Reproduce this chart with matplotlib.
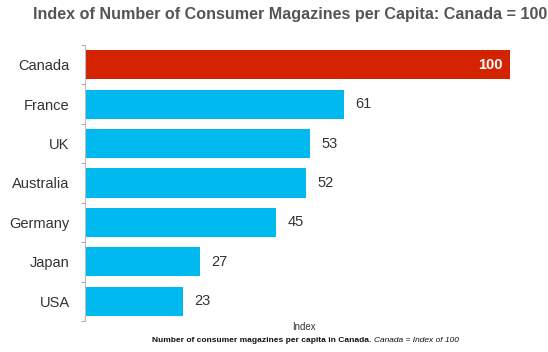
import matplotlib
matplotlib.use("Agg")
import matplotlib.pyplot as plt

countries = ["Canada", "France", "UK", "Australia", "Germany", "Japan", "USA"]
index_values = [100, 61, 53, 52, 45, 27, 23]
bar_colors = ["#D42300", "#00B9EE", "#00B9EE", "#00B9EE", "#00B9EE", "#00B9EE", "#00B9EE"]

title_text = "Index of Number of Consumer Magazines per Capita: Canada = 100"
xlabel_text = "Index"
note_plain = "Number of consumer magazines per capita in Canada. "
note_italic = "Canada = Index of 100"

plt.rcParams["font.family"] = ["Liberation Sans", "DejaVu Sans"]

fig = plt.figure(figsize=(5.48, 3.52), dpi=100)
ax = fig.add_axes([85 / 548, 1 - 321 / 352, 463 / 548, 276 / 352])

y = list(range(len(countries)))
ax.barh(y, index_values, height=0.74, color=bar_colors, edgecolor="none")
ax.set_xlim(0, 463 / 425 * 100)
ax.set_ylim(len(countries) - 0.5, -0.5)

ax.set_yticks(y)
ax.set_yticklabels(countries, fontsize=10.5, color="#333333")
ax.set_yticks([i - 0.5 for i in range(len(countries) + 1)], minor=True)
ax.tick_params(axis="y", which="major", length=0, pad=11)
ax.tick_params(axis="y", which="minor", length=3, width=0.8, color="#aaaaaa")
ax.set_xticks([])

for side in ["top", "right", "bottom"]:
    ax.spines[side].set_visible(False)
ax.spines["left"].set_color("#bbbbbb")
ax.spines["left"].set_linewidth(0.8)

for i, v in enumerate(index_values):
    if i == 0:
        ax.annotate(str(v), (v, i), xytext=(-5, 0), textcoords="offset points",
                    ha="right", va="center", fontsize=10.5, fontweight="bold", color="white")
    else:
        ax.annotate(str(v), (v, i), xytext=(8, 0), textcoords="offset points",
                    ha="left", va="center", fontsize=10.5, color="#333333")

fig.text(290 / 548, 1 - 15 / 352, title_text, ha="center", va="center",
         fontsize=11.6, fontweight="bold", color="#555555")
fig.text(304 / 548, 1 - 327 / 352, xlabel_text, ha="center", va="center",
         fontsize=7, color="#333333")

t1 = fig.text(152 / 548, 1 - 340 / 352, note_plain, ha="left", va="center",
              fontsize=6, color="#111111", fontweight="bold")
fig.canvas.draw()
bb = t1.get_window_extent()
fig.text(bb.x1 / fig.bbox.width, 1 - 340 / 352, note_italic, ha="left", va="center",
         fontsize=6, color="#111111", fontstyle="italic")

fig.savefig("out.png", dpi=100)
